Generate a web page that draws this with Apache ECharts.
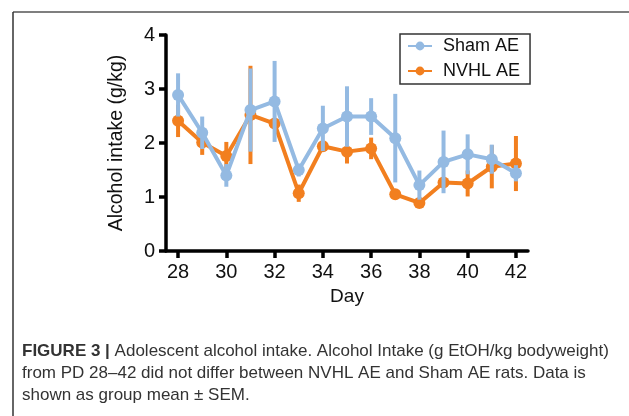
<!DOCTYPE html>
<html>
<head>
<meta charset="utf-8">
<script src="https://cdn.jsdelivr.net/npm/echarts@6/dist/echarts.min.js"></script>
<style>
  html, body { margin: 0; padding: 0; background: #fff; }
  #main { width: 629px; height: 416px; }
</style>
</head>
<body>
<div id="main"></div>
<script>
// 数据
var days = [28, 29, 30, 31, 32, 33, 34, 35, 36, 37, 38, 39, 40, 41, 42];
var xTicks = [28, 30, 32, 34, 36, 38, 40, 42];
var shamMean = [2.89, 2.19, 1.40, 2.61, 2.77, 1.50, 2.27, 2.49, 2.49, 2.09, 1.22, 1.65, 1.79, 1.70, 1.44];
var shamSem = [0.40, 0.30, 0.21, 0.77, 0.75, 0.12, 0.42, 0.56, 0.34, 0.82, 0.27, 0.58, 0.37, 0.27, 0.15];
var nvhlMean = [2.41, 2.01, 1.76, 2.52, 2.36, 1.07, 1.94, 1.84, 1.90, 1.05, 0.89, 1.27, 1.25, 1.56, 1.62];
var nvhlSem = [0.30, 0.23, 0.26, 0.91, 0.08, 0.16, 0.06, 0.22, 0.20, 0.05, 0.08, 0.08, 0.24, 0.40, 0.51];

var blue = '#94bae2';
var orange = '#f27f1f';
var font = 'Liberation Sans, Arial, Helvetica, sans-serif';

var main = document.getElementById('main');
var chart = echarts.init(main);

function pairs(mean) {
    return days.map(function (d, i) { return [d, mean[i]]; });
}
function errData(mean, sem) {
    return days.map(function (d, i) { return [d, mean[i] - sem[i], mean[i] + sem[i]]; });
}
// 误差棒
function errSeries(name, mean, sem, color, z) {
    return {
        type: 'custom',
        name: name,
        z: z,
        data: errData(mean, sem),
        encode: { x: 0, y: [1, 2] },
        renderItem: function (params, api) {
            var lo = api.coord([api.value(0), api.value(1)]);
            var hi = api.coord([api.value(0), api.value(2)]);
            return {
                type: 'line',
                shape: { x1: lo[0], y1: lo[1], x2: hi[0], y2: hi[1] },
                style: { stroke: color, lineWidth: 4 }
            };
        }
    };
}
function lineSeries(name, mean, color, z) {
    return {
        type: 'line',
        name: name,
        z: z,
        data: pairs(mean),
        symbol: 'circle',
        symbolSize: 12,
        lineStyle: { color: color, width: 4 },
        itemStyle: { color: color }
    };
}

var option = {
    animation: false,
    grid: { left: 166, right: 101, top: 35, bottom: 165 },
    legend: {
        data: ['Sham AE', 'NVHL AE'],
        orient: 'vertical',
        left: 400,
        top: 34,
        itemWidth: 24,
        itemHeight: 11,
        itemGap: 7,
        padding: [3, 10, 4, 7],
        borderColor: '#333',
        borderWidth: 1.5,
        textStyle: { fontFamily: font, fontSize: 18, color: '#111', padding: [0, 0, 0, 6] }
    },
    xAxis: {
        type: 'value',
        min: 27.5,
        max: 42.5,
        name: 'Day',
        nameLocation: 'middle',
        nameGap: 34,
        nameTextStyle: { fontFamily: font, fontSize: 19, color: '#111' },
        splitLine: { show: false },
        axisLine: { lineStyle: { color: '#000', width: 3.5 } },
        axisTick: { customValues: xTicks, length: 7, lineStyle: { width: 3.5, color: '#000' } },
        axisLabel: { customValues: xTicks, margin: 11, fontFamily: font, fontSize: 20, color: '#111' }
    },
    yAxis: {
        type: 'value',
        min: 0,
        max: 4,
        interval: 1,
        name: 'Alcohol intake (g/kg)',
        nameLocation: 'middle',
        nameRotate: 90,
        nameGap: 39,
        nameTextStyle: { fontFamily: font, fontSize: 19.5, color: '#111' },
        splitLine: { show: false },
        axisLine: { show: true, lineStyle: { color: '#000', width: 3.5 } },
        axisTick: { show: true, length: 7, lineStyle: { width: 3.5, color: '#000' } },
        axisLabel: { margin: 11, fontFamily: font, fontSize: 20, color: '#111' }
    },
    series: [
        errSeries('NVHL err', nvhlMean, nvhlSem, orange, 2),
        lineSeries('NVHL AE', nvhlMean, orange, 3),
        errSeries('Sham err', shamMean, shamSem, blue, 4),
        lineSeries('Sham AE', shamMean, blue, 5)
    ],
    graphic: [
        // 外框
        { type: 'line', shape: { x1: 13, y1: 12, x2: 629, y2: 12 }, style: { stroke: '#555', lineWidth: 1.5 } },
        { type: 'line', shape: { x1: 13, y1: 12, x2: 13, y2: 416 }, style: { stroke: '#333', lineWidth: 1.5 } },
        // 图注
        {
            type: 'text', left: 22, top: 343,
            style: {
                text: '{b|FIGURE 3 |} Adolescent alcohol intake. Alcohol Intake (g EtOH/kg bodyweight)',
                fontFamily: font, fontSize: 17, fill: '#333',
                rich: { b: { fontFamily: font, fontSize: 17, fontWeight: 'bold', fill: '#333' } }
            }
        },
        {
            type: 'text', left: 22, top: 365,
            style: {
                text: 'from PD 28\u201342 did not differ between NVHL AE and Sham AE rats. Data is',
                fontFamily: font, fontSize: 17, fill: '#333'
            }
        },
        {
            type: 'text', left: 22, top: 387,
            style: {
                text: 'shown as group mean \u00b1 SEM.',
                fontFamily: font, fontSize: 17, fill: '#333'
            }
        }
    ]
};

chart.setOption(option);
</script>
</body>
</html>
